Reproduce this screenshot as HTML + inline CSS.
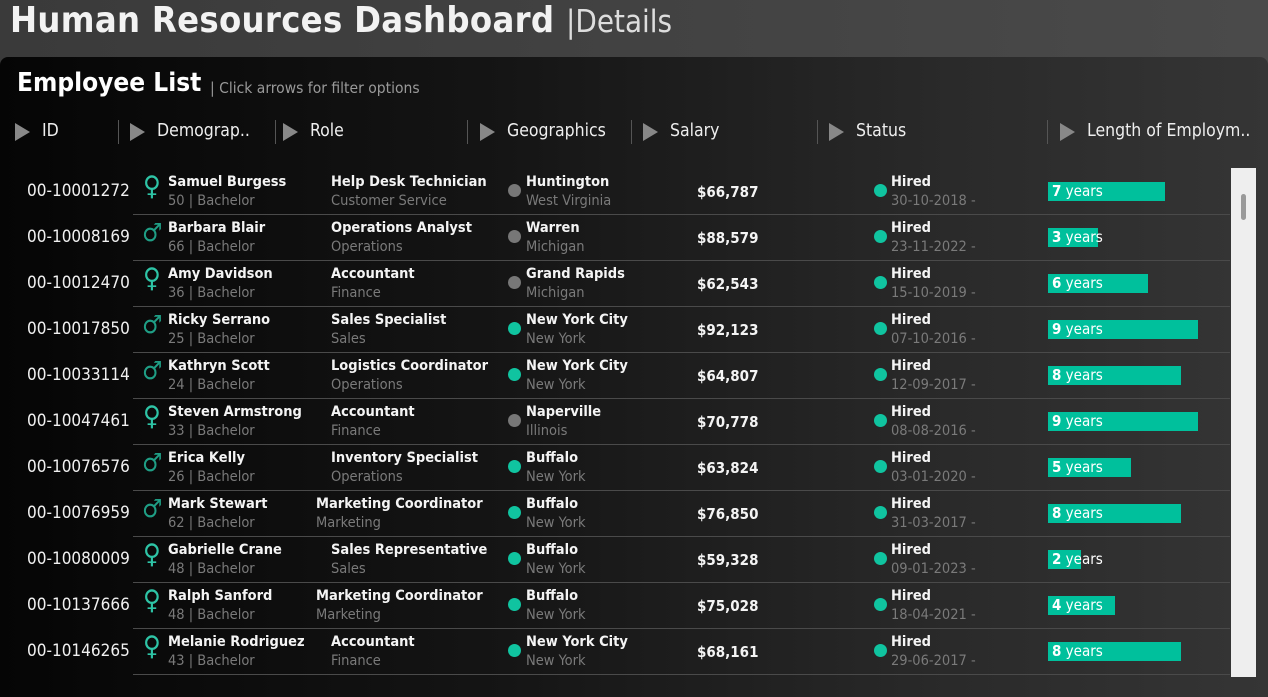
<!DOCTYPE html>
<html><head><meta charset="utf-8">
<style>
*{margin:0;padding:0;box-sizing:border-box}
body{width:1268px;height:677px;overflow:hidden;background:linear-gradient(90deg,#3a3a3a,#4a4a4a);font-family:"DejaVu Sans Condensed","Liberation Sans",sans-serif;color:#fff;position:relative}
.abs{position:absolute;white-space:nowrap}
#title{left:10px;top:0px;font-size:36px;font-weight:bold;color:#f2f2f2;letter-spacing:0.3px}
#sub{left:566px;top:4px;font-size:31px;color:#ddd}
#panel{position:absolute;left:0;top:57px;width:1268px;height:640px;border-radius:8px 8px 0 0;background:linear-gradient(90deg,#050505 0%,#151515 40%,#2a2a2a 75%,#353535 100%)}
#ph{left:17px;top:68px;font-size:26px;font-weight:bold}
#ph2{left:210px;top:79px;font-size:15.5px;color:#999}
.hdr{font-size:17.5px;color:#eee;top:121px}
.tri{width:0;height:0;border-top:9px solid transparent;border-bottom:9px solid transparent;border-left:15px solid #888;top:123px}
.sep{width:1px;height:24px;background:#555;top:120px}
.line{height:1px;background:#4a4a4a;left:133px;width:1097px}
.b{font-size:14.5px;font-weight:bold;color:#f4f4f4}
.g{font-size:14.5px;color:#7a7a7a}
.dot{width:13px;height:13px;border-radius:50%}
#scroll{left:1231px;top:168px;width:25px;height:509px;background:#eeeeee}
#thumb{left:1241px;top:194px;width:5px;height:26px;border-radius:3px;background:#999}
</style></head><body>
<div id="title" class="abs">Human Resources Dashboard</div>
<div id="sub" class="abs">|Details</div>
<div id="panel"></div>
<div id="ph" class="abs">Employee List</div>
<div id="ph2" class="abs">| Click arrows for filter options</div>
<div id="hdrs"></div>
<div id="rows"></div>
<div id="scroll" class="abs"></div>
<div id="thumb" class="abs"></div>
<script>
const ids=["00-10001272","00-10008169","00-10012470","00-10017850","00-10033114","00-10047461","00-10076576","00-10076959","00-10080009","00-10137666","00-10146265"];
const names=["Samuel Burgess","Barbara Blair","Amy Davidson","Ricky Serrano","Kathryn Scott","Steven Armstrong","Erica Kelly","Mark Stewart","Gabrielle Crane","Ralph Sanford","Melanie Rodriguez"];
const genders=["F","M","F","M","M","F","M","M","F","F","F"];
const ages=[50,66,36,25,24,33,26,62,48,48,43];
const roles=["Help Desk Technician","Operations Analyst","Accountant","Sales Specialist","Logistics Coordinator","Accountant","Inventory Specialist","Marketing Coordinator","Sales Representative","Marketing Coordinator","Accountant"];
const depts=["Customer Service","Operations","Finance","Sales","Operations","Finance","Operations","Marketing","Sales","Marketing","Finance"];
const cities=["Huntington","Warren","Grand Rapids","New York City","New York City","Naperville","Buffalo","Buffalo","Buffalo","Buffalo","New York City"];
const states=["West Virginia","Michigan","Michigan","New York","New York","Illinois","New York","New York","New York","New York","New York"];
const salaries=[66787,88579,62543,92123,64807,70778,63824,76850,59328,75028,68161];
const hireDates=["30-10-2018","23-11-2022","15-10-2019","07-10-2016","12-09-2017","08-08-2016","03-01-2020","31-03-2017","09-01-2023","18-04-2021","29-06-2017"];
const years=[7,3,6,9,8,9,5,8,2,4,8];
const headers=["ID","Demograp..","Role","Geographics","Salary","Status","Length of Employm.."];
const hdrTri=[15,130,283,480,643,829,1060];
const hdrSep=[118,275,467,631,817,1047];

const H=document.getElementById('hdrs');
headers.forEach((h,i)=>{
  const t=document.createElement('div');t.className='abs tri';t.style.left=hdrTri[i]+'px';
  
  H.appendChild(t);
  const l=document.createElement('div');l.className='abs hdr';l.style.left=(hdrTri[i]+27)+'px';l.textContent=h;
  
  H.appendChild(l);
});
hdrSep.forEach(x=>{const s=document.createElement('div');s.className='abs sep';s.style.left=x+'px';
  
  H.appendChild(s);});

const R=document.getElementById('rows');
const y0=168,rh=46,pxPerYear=16.67;
function add(cls,x,y,txt,name,extra){const d=document.createElement('div');d.className='abs '+cls;d.style.left=x+'px';d.style.top=y+'px';if(txt!==null)d.textContent=txt;
  
  
  if(extra)Object.assign(d.style,extra);R.appendChild(d);return d;}
ids.forEach((id,i)=>{
  const y=y0+i*rh;
  add('',27,y+13,id,'employee-id',{color:'#f0f0f0',fontSize:'17px'});
  const fem=genders[i]==='F';
  add('',fem?143:142,y+(fem?3:4),fem?'♀':'♂','gender-icon',{fontSize:fem?'27px':'25px',color:fem?'#2ec4a6':'#1f9e85',fontWeight:'bold'});
  add('b',168,y+6,names[i],'employee-name');
  add('g',168,y+25,ages[i]+' | Bachelor','age-education');
  const rx=roles[i].startsWith('Marketing')?316:331;
  add('b',rx,y+6,roles[i],'role-title');
  add('g',rx,y+25,depts[i],'department');
  const ny=states[i]==='New York';
  add('dot',508,y+16,null,'location-dot',{background:ny?'#10c4a0':'#777'});
  add('b',526,y+6,cities[i],'city');
  add('g',526,y+25,states[i],'state');
  add('b',697,y+15,'$'+salaries[i].toLocaleString('en-US'),'salary',{fontSize:'15px'});
  add('dot',874,y+16,null,'status-dot',{background:'#10c4a0'});
  add('b',891,y+6,'Hired','status');
  add('g',891,y+25,hireDates[i]+' -','hire-date');
  add('',1048,y+14,null,'tenure-bar',{width:(years[i]*pxPerYear)+'px',height:'19px',background:'#00c09c'});
  const t=add('',1052,y+14,'','tenure-label',{fontSize:'15px',color:'#fff',lineHeight:'19px'});
  t.innerHTML='<b>'+years[i]+'</b> years';
  add('line',133,y+46,null,'row-separator');
});
</script>
</body></html>
